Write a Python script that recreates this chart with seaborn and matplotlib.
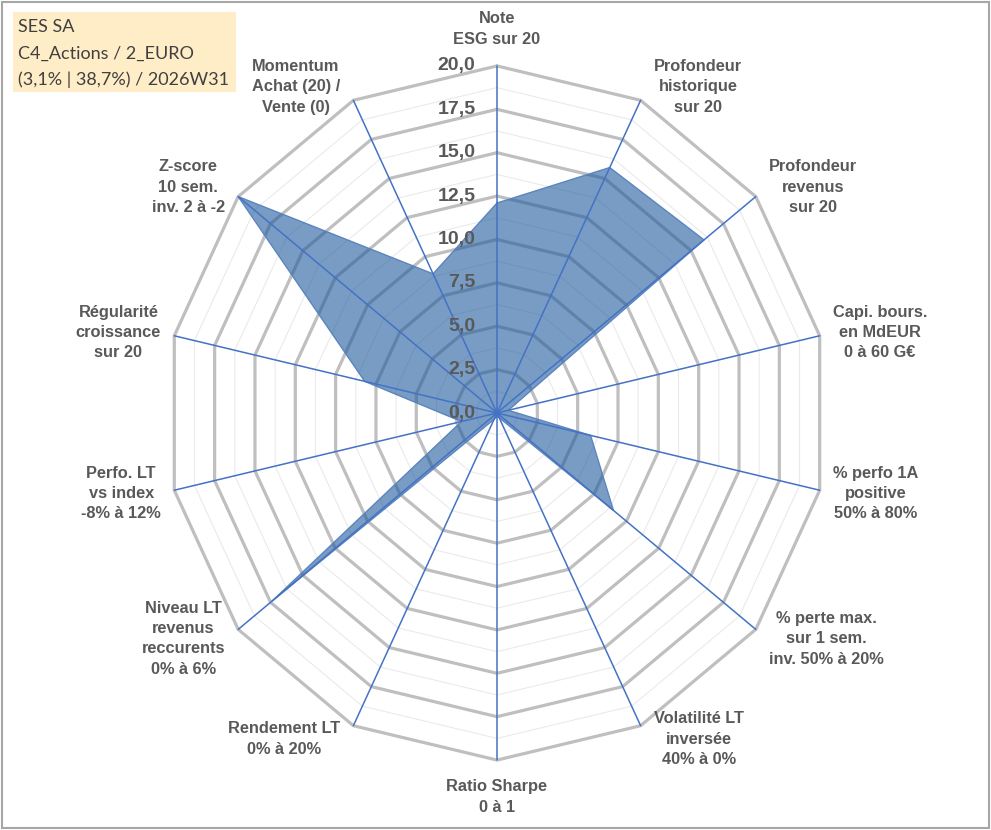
import numpy as np
import pandas as pd
import matplotlib
matplotlib.use("Agg")
import matplotlib.pyplot as plt
from matplotlib.patches import Rectangle
import seaborn as sns

# chart data
categories = [
    "Note\nESG sur 20",
    "Profondeur\nhistorique\nsur 20",
    "Profondeur\nrevenus\nsur 20",
    "Capi. bours.\nen MdEUR\n0 à 60 G€",
    "% perfo 1A\npositive\n50% à 80%",
    "% perte max.\nsur 1 sem.\ninv. 50% à 20%",
    "Volatilité LT\ninversée\n40% à 0%",
    "Ratio Sharpe\n0 à 1",
    "Rendement LT\n0% à 20%",
    "Niveau LT\nrevenus\nreccurents\n0% à 6%",
    "Perfo. LT\nvs index\n-8% à 12%",
    "Régularité\ncroissance\nsur 20",
    "Z-score\n10 sem.\ninv. 2 à -2",
    "Momentum\nAchat (20) /\nVente (0)",
]
scores = [12.1, 15.7, 16.0, 0.7, 5.8, 9.0, 0.3, 0.2, 0.4, 17.4, 2.2, 8.2, 20.0, 8.9]
major_ticks = [0.0, 2.5, 5.0, 7.5, 10.0, 12.5, 15.0, 17.5, 20.0]
minor_ticks = [1.25, 3.75, 6.25, 8.75, 11.25, 13.75, 16.25, 18.75]
title_lines = ["SES SA", "C4_Actions / 2_EURO", "(3,1% | 38,7%) / 2026W31"]

R_MAX = 20.0
LABEL_GREY = "#595959"
SPOKE_BLUE = "#4472C4"

sns.set_theme(style="white")
plt.rcParams["font.family"] = ["Liberation Sans", "DejaVu Sans"]

n = len(categories)
theta = 2 * np.pi * np.arange(n) / n
sin_t, cos_t = np.sin(theta), np.cos(theta)

fig = plt.figure(figsize=(9.91, 8.30), dpi=100)
ax = fig.add_axes([0, 0, 1, 1])
ax.set_xlim(-30.03, 29.85)
ax.set_ylim(-24.03, 23.80)
ax.set_axis_off()

# polygon grid
def ring(r):
    xs = np.append(r * sin_t, r * sin_t[0])
    ys = np.append(r * cos_t, r * cos_t[0])
    return xs, ys

for r in minor_ticks:
    xs, ys = ring(r)
    ax.plot(xs, ys, color="#EAEAEA", lw=0.8, zorder=1)
for r in major_ticks[1:]:
    xs, ys = ring(r)
    ax.plot(xs, ys, color="#BFBFBF", lw=2.3, zorder=2, solid_joinstyle="miter")

# filled series
df = pd.DataFrame({
    "x": np.append(np.array(scores) * sin_t, scores[0] * sin_t[0]),
    "y": np.append(np.array(scores) * cos_t, scores[0] * cos_t[0]),
})
ax.fill(df["x"], df["y"], color="#1F5A9E", alpha=0.6, lw=0, zorder=3)
sns.lineplot(data=df, x="x", y="y", sort=False, estimator=None,
             color="#5B85BE", lw=1.0, ax=ax, zorder=4)
ax.set_axis_off()

# spokes
for s, c in zip(sin_t, cos_t):
    ax.plot([0, R_MAX * s], [0, R_MAX * c], color=SPOKE_BLUE, lw=1.1, zorder=5)

# value ticks along the top spoke
for v in major_ticks:
    ax.text(-1.3, v, f"{v:.1f}".replace(".", ","), ha="right", va="center",
            fontsize=14, fontweight="bold", color=LABEL_GREY, zorder=6)

# category labels
for lab, s, c in zip(categories, sin_t, cos_t):
    if abs(s) < 1e-6:
        ax.text(0, (R_MAX + 1.1) * np.sign(c), lab, ha="center",
                va="bottom" if c > 0 else "top", fontsize=11.8, fontweight="bold",
                color=LABEL_GREY, linespacing=1.45, multialignment="center")
    else:
        ax.text(R_MAX * s + 0.8 * np.sign(s), R_MAX * c + 0.86 * c, lab,
                ha="left" if s > 0 else "right", va="center", fontsize=11.8,
                fontweight="bold", color=LABEL_GREY, linespacing=1.45,
                multialignment="center")

# title box
fig.patches.append(Rectangle((13 / 991, 1 - 92 / 830), 223 / 991, 80 / 830,
                             transform=fig.transFigure, facecolor="#FFEDC7",
                             edgecolor="none", zorder=0))
for i, line in enumerate(title_lines):
    fig.text(18 / 991, 1 - (27 + 26.5 * i) / 830, line, ha="left", va="center",
             fontsize=13, color="#404040", family=["Lato", "DejaVu Sans"])

# outer frame
fig.patches.append(Rectangle((0.002, 0.002), 0.996, 0.996, transform=fig.transFigure,
                             facecolor="none", edgecolor="#A6A6A6", lw=1.5))

fig.savefig("out.png", dpi=100)
